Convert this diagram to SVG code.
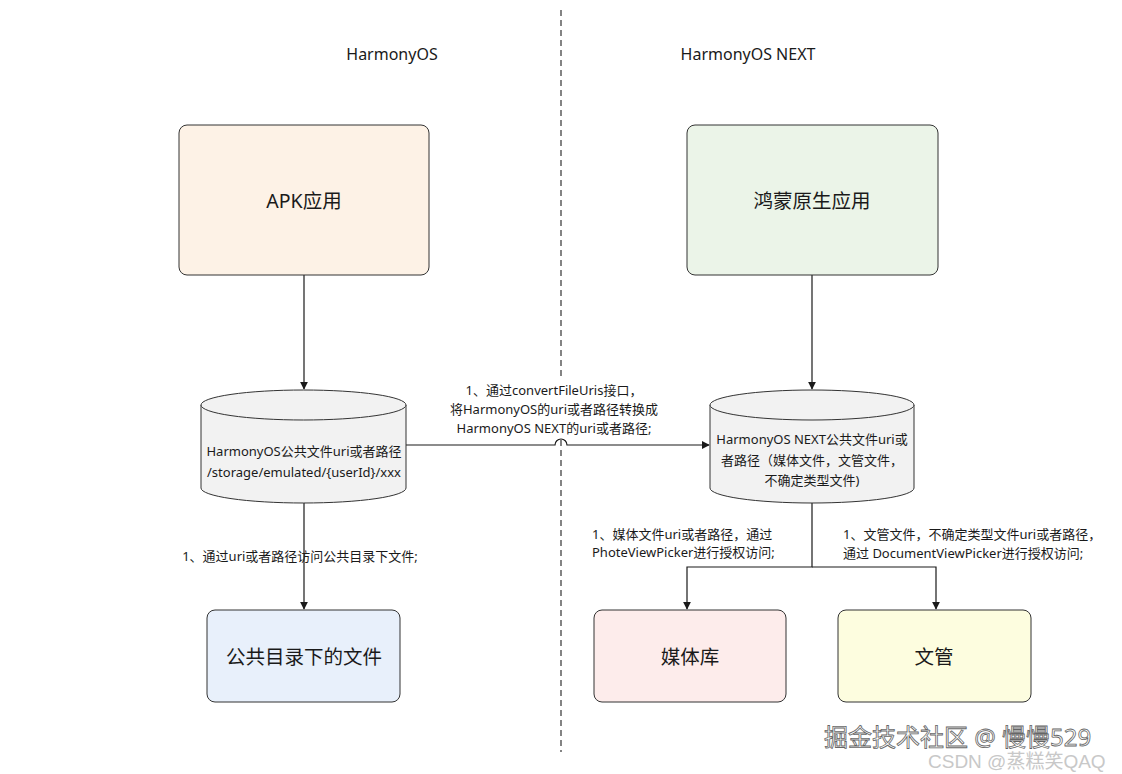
<svg xmlns="http://www.w3.org/2000/svg" width="1122" height="774" viewBox="0 0 1122 774">
<defs>
<marker id="arr" viewBox="0 0 10 10" refX="9" refY="5" markerWidth="8" markerHeight="8" markerUnits="userSpaceOnUse" orient="auto">
<path d="M0,0 L10,5 L0,10 Z" fill="#1a1a1a"/>
</marker>
</defs>
<style>
text{font-family:"Noto Sans","Noto Sans CJK SC",sans-serif;fill:#1a1a1a;}
.box{stroke:#333;stroke-width:1;}
.big{font-size:19.5px;text-anchor:middle;}
.hdr{font-size:16px;text-anchor:middle;}
.lbl{font-size:13px;}
.mid{text-anchor:middle;}
.edge{fill:none;stroke:#1a1a1a;stroke-width:1.2;}
.cyl{fill:#f2f2f2;stroke:#333;stroke-width:1;}
</style>
<rect width="1122" height="774" fill="#ffffff"/>
<line x1="561" y1="10" x2="561" y2="752" stroke="#333" stroke-width="1.2" stroke-dasharray="6,4"/>
<text class="hdr" x="392" y="60">HarmonyOS</text>
<text class="hdr" x="748" y="60">HarmonyOS NEXT</text>

<g id="connectors">
<path class="edge" d="M304,275 L304,389" marker-end="url(#arr)"/>
<path class="edge" d="M812,275 L812,389" marker-end="url(#arr)"/>
<path class="edge" d="M406,445 L555,445 A6,6 0 0,1 567,445 L709,445" marker-end="url(#arr)"/>
<path class="edge" d="M304,503 L304,609" marker-end="url(#arr)"/>
<path class="edge" d="M812,503 L812,567 L687,567 L687,609" marker-end="url(#arr)"/>
<path class="edge" d="M812,567 L936,567 L936,609" marker-end="url(#arr)"/>
<rect x="446" y="380" width="218" height="56" fill="#ffffff"/>
<text class="lbl mid" x="554" y="395">1、通过convertFileUris接口，</text>
<text class="lbl mid" x="554" y="414">将HarmonyOS的uri或者路径转换成</text>
<text class="lbl mid" x="554" y="433">HarmonyOS NEXT的uri或者路径;</text>
<text class="lbl mid" x="300" y="561">1、通过uri或者路径访问公共目录下文件;</text>
<text class="lbl" x="592" y="539">1、媒体文件uri或者路径，通过</text>
<text class="lbl" x="592" y="557">PhoteViewPicker进行授权访问;</text>
<text class="lbl" x="843" y="539">1、文管文件，不确定类型文件uri或者路径，</text>
<text class="lbl" x="843" y="558">通过 DocumentViewPicker进行授权访问;</text>
</g>

<g id="apk">
<rect class="box" x="179" y="125" width="250" height="150" rx="8" fill="#fdf2e6"/>
<text class="big" x="304" y="208">APK应用</text>
</g>
<g id="native">
<rect class="box" x="687" y="125" width="251" height="150" rx="8" fill="#ebf4e8"/>
<text class="big" x="812" y="208">鸿蒙原生应用</text>
</g>
<g id="cyl-left">
<path class="cyl" d="M201,405 A102.5,15 0 0,1 406,405 L406,488 A102.5,15 0 0,1 201,488 Z"/>
<path class="cyl" fill="none" d="M201,405 A102.5,15 0 0,0 406,405"/>
<text class="lbl mid" x="304" y="456">HarmonyOS公共文件uri或者路径</text>
<text class="lbl mid" x="304" y="477">/storage/emulated/{userId}/xxx</text>
</g>
<g id="cyl-right">
<path class="cyl" d="M710,405 A102,15 0 0,1 914,405 L914,488 A102,15 0 0,1 710,488 Z"/>
<path class="cyl" fill="none" d="M710,405 A102,15 0 0,0 914,405"/>
<text class="lbl mid" x="812" y="444">HarmonyOS NEXT公共文件uri或</text>
<text class="lbl mid" x="812" y="465">者路径（媒体文件，文管文件，</text>
<text class="lbl mid" x="812" y="485">不确定类型文件)</text>
</g>
<g id="public-files">
<rect class="box" x="207" y="610" width="193" height="92" rx="8" fill="#e8f0fb"/>
<text class="big" x="304" y="664">公共目录下的文件</text>
</g>
<g id="media">
<rect class="box" x="594" y="610" width="192" height="92" rx="8" fill="#fdeceb"/>
<text class="big" x="690" y="664">媒体库</text>
</g>
<g id="filemgr">
<rect class="box" x="838" y="610" width="193" height="92" rx="8" fill="#fdfddf"/>
<text class="big" x="934" y="664">文管</text>
</g>

<text x="824" y="746" style="font-size:24px;fill:#ffffff;stroke:#666;stroke-width:0.8;">掘金技术社区 @ 慢慢529</text>
<text x="928" y="768" style="font-family:'Liberation Sans','Noto Sans CJK SC',sans-serif;font-size:19px;fill:#c8c8c8;">CSDN @蒸糕笑QAQ</text>
</svg>
